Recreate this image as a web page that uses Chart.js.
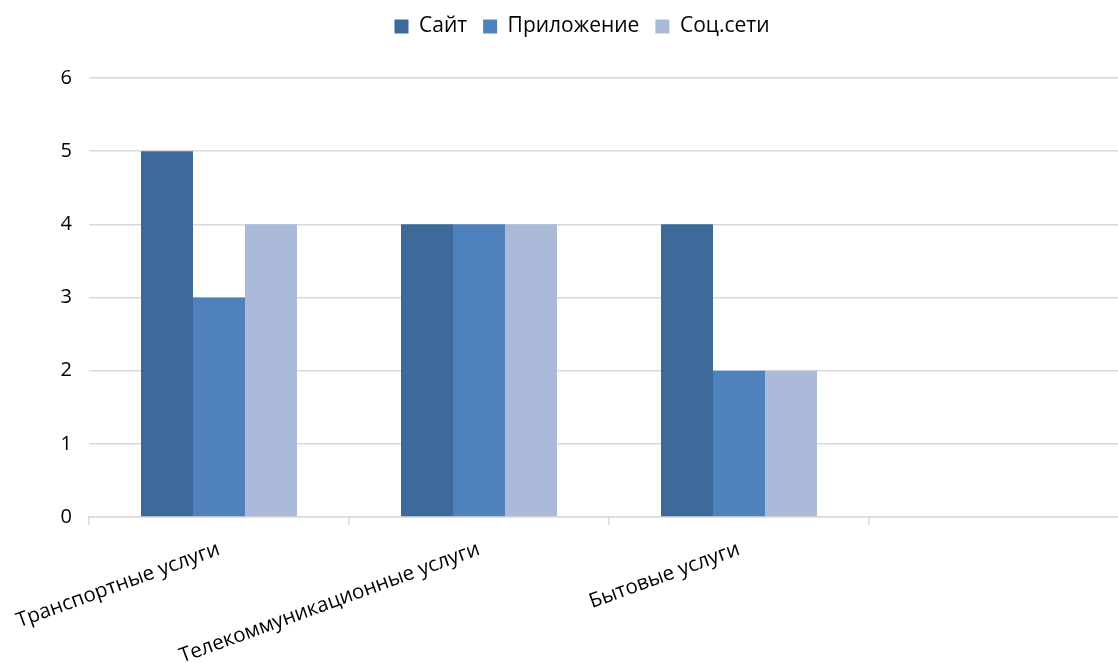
<!DOCTYPE html>
<html>
<head>
<meta charset="utf-8">
<script src="https://cdn.jsdelivr.net/npm/chart.js@4.4.0/dist/chart.umd.min.js"></script>
<style>
  html, body { margin: 0; padding: 0; overflow: hidden; background: #fff; }
  #wrap { width: 1164px; height: 663px; }
</style>
</head>
<body>
<div id="wrap"><canvas id="barChart"></canvas></div>
<script>
Chart.defaults.font.family = '"Open Sans", "Noto Sans", sans-serif';
Chart.defaults.color = '#000';

// categories (the 4th slot is empty in the original)
const categories = ['Транспортные услуги', 'Телекоммуникационные услуги', 'Бытовые услуги', ''];
const siteValues = [5, 4, 4, null];
const appValues = [3, 4, 2, null];
const socialValues = [4, 4, 2, null];

const gridColor = '#d9d9d9';

// extra space under the legend
const legendMargin = {
    id: 'legendMargin',
    beforeInit: function (chart) {
        const fit = chart.legend.fit;
        chart.legend.fit = function () {
            fit.bind(chart.legend)();
            this.height += 31;
        };
    }
};

var ctx = document.getElementById('barChart');
var barChart = new Chart(ctx, {
    type: 'bar',
    data: {
        labels: categories,
        datasets: [
            { label: 'Сайт', data: siteValues, backgroundColor: '#3e6a9b' },
            { label: 'Приложение', data: appValues, backgroundColor: '#4f81bd' },
            { label: 'Соц.сети', data: socialValues, backgroundColor: '#aabad8' }
        ]
    },
    plugins: [legendMargin],
    options: {
        responsive: true,
        maintainAspectRatio: false,
        animation: false,
        layout: { padding: 0 },
        datasets: {
            bar: { categoryPercentage: 0.6, barPercentage: 1.0 }
        },
        plugins: {
            legend: {
                display: true,
                position: 'top',
                labels: {
                    boxWidth: 14,
                    boxHeight: 14,
                    padding: 16,
                    font: { size: 21 }
                }
            },
            tooltip: { enabled: false }
        },
        scales: {
            x: {
                grid: {
                    display: true,
                    drawOnChartArea: false,
                    offset: true,
                    color: gridColor,
                    lineWidth: 1.5,
                    tickLength: 8
                },
                border: { color: gridColor, width: 1.5 },
                ticks: {
                    autoSkip: false,
                    minRotation: 20,
                    maxRotation: 20,
                    padding: 12,
                    font: { size: 20.5 }
                },
                afterFit: function (scale) {
                    scale.height = 146;
                    scale.paddingLeft = 0;
                    scale.paddingRight = 35;
                }
            },
            y: {
                min: 0,
                max: 6,
                grid: { color: gridColor, lineWidth: 1.5, drawTicks: false },
                border: { display: false },
                ticks: {
                    stepSize: 1,
                    padding: 17,
                    font: { size: 20 }
                },
                afterFit: function (scale) { scale.width = 89; }
            }
        }
    }
});
</script>
</body>
</html>
